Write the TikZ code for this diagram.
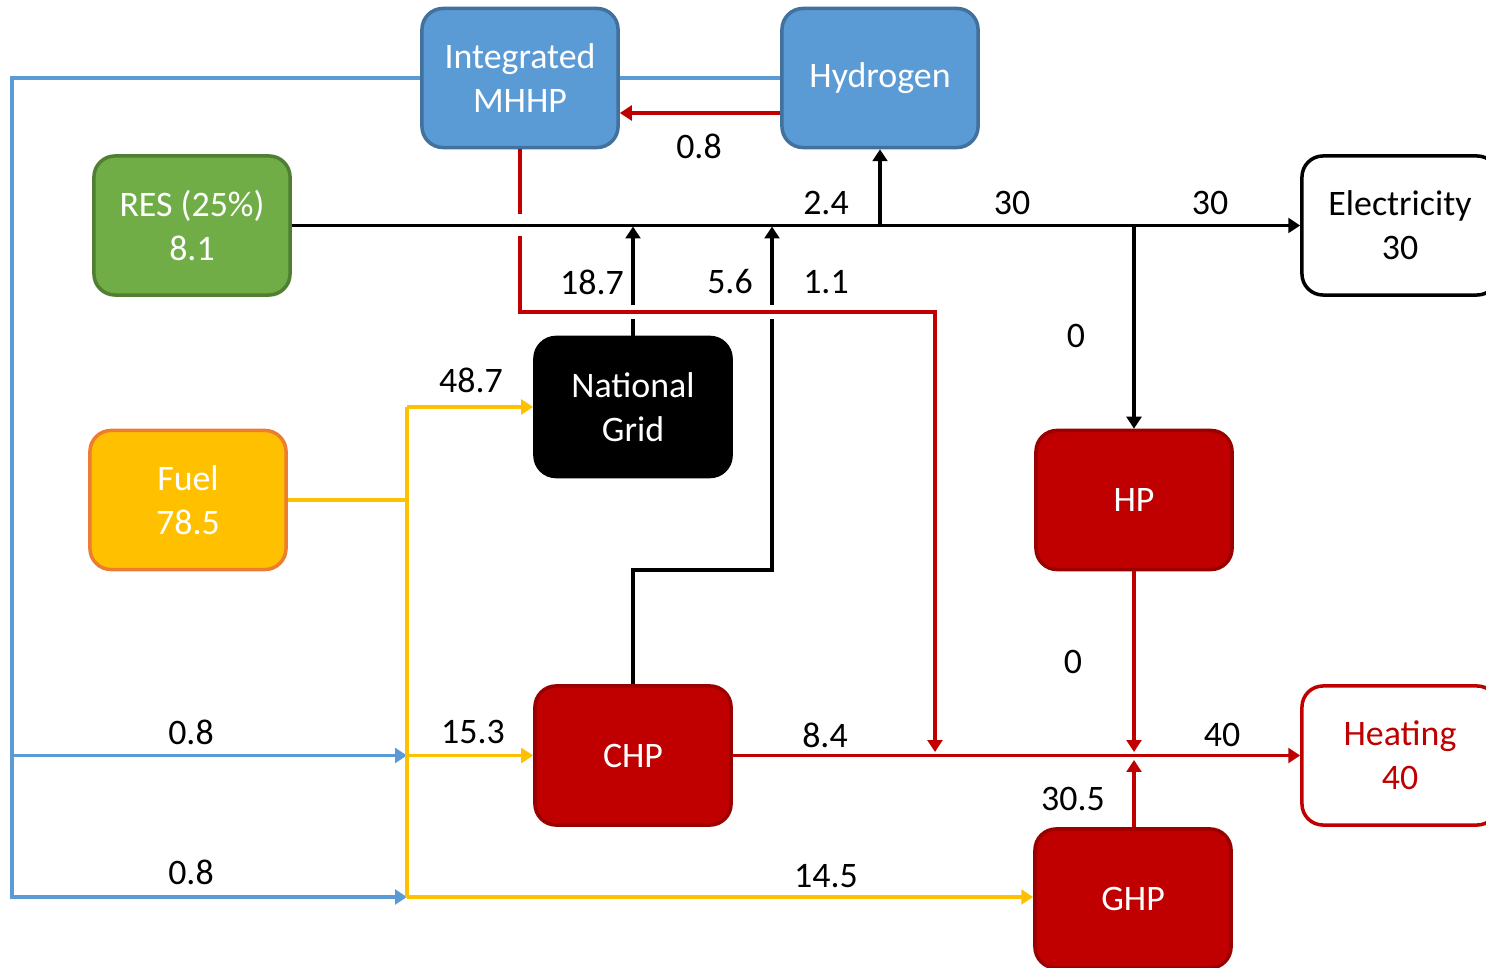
\documentclass[tikz,border=0pt]{standalone}
\usepackage{fontspec}
\setmainfont{Carlito}
\usetikzlibrary{arrows.meta}
\definecolor{bfill}{HTML}{5B9BD5}
\definecolor{bdraw}{HTML}{41719C}
\definecolor{gfill}{HTML}{70AD47}
\definecolor{gdraw}{HTML}{507E32}
\definecolor{yfill}{HTML}{FFC000}
\definecolor{ydraw}{HTML}{ED7D31}
\definecolor{rfill}{HTML}{C00000}
\definecolor{rdraw}{HTML}{9A0000}
\tikzset{
  box/.style={rectangle, rounded corners=6pt, minimum width=1.96cm, minimum height=1.39cm,
    align=center, line width=1pt, inner sep=1pt},
  bluebox/.style={box, fill=bfill, draw=bdraw, text=white},
  greenbox/.style={box, fill=gfill, draw=gdraw, text=white},
  fuelbox/.style={box, fill=yfill, draw=ydraw, text=white},
  redbox/.style={box, fill=rfill, draw=rdraw, text=white},
  blackbox/.style={box, fill=black, draw=black, text=white},
  outbox/.style={box, fill=white, draw=black, text=black},
  heatbox/.style={box, fill=white, draw=rfill, text=rfill},
  lbl/.style={inner sep=0pt, text=black},
  tip/.style={-{Triangle[length=3.4pt,width=4.2pt]}},
  bk/.style={line width=0.9pt, draw=black},
  bl/.style={line width=0.9pt, draw=bfill},
  yl/.style={line width=0.9pt, draw=yfill},
  rl/.style={line width=0.9pt, draw=rfill},
}
\begin{document}
\begin{tikzpicture}[x=0.01cm, y=-0.01cm, font=\fontsize{10.2}{12.6}\selectfont]
\clip (0,0) rectangle (1486,968);
\fill[white] (0,0) rectangle (1486,968);

% nodes
\node[bluebox] (mhhp) at (520,78) {Integrated\\MHHP};
\node[bluebox] (hyd) at (880,78) {Hydrogen};
\node[greenbox] (res) at (192,225.5) {RES (25\%)\\8.1};
\node[outbox] (elec) at (1400,225.5) {Electricity\\30};
\node[blackbox] (ng) at (633,407) {National\\Grid};
\node[fuelbox] (fuel) at (188,500) {Fuel\\78.5};
\node[redbox] (hp) at (1134,500) {HP};
\node[redbox] (chp) at (633,755.5) {CHP};
\node[heatbox] (heat) at (1400,755.5) {Heating\\40};
\node[redbox] (ghp) at (1133,898.5) {GHP};

% coordinates
\coordinate (bc) at (12,755.5);
\coordinate (bg) at (12,897);
\coordinate (ya) at (407,755.5);
\coordinate (yb) at (407,897);
\coordinate (yt) at (407,407);
\coordinate (yf) at (407,500);
\coordinate (ra) at (520,214);
\coordinate (rb) at (520,236);
\coordinate (rc) at (520,312);
\coordinate (rj) at (935,752);
\coordinate (ng1) at (633,319);
\coordinate (ng2) at (633,305);
\coordinate (ng3) at (633,226.5);
\coordinate (ch1) at (772,570);
\coordinate (ch2) at (772,319);
\coordinate (ch3) at (772,305);
\coordinate (ch4) at (772,226.5);
\coordinate (hj) at (1134,752);
\coordinate (gj) at (1134,760);

% blue
\draw[bl, tip] (mhhp.west) -| (bg) -- (yb);
\draw[bl, tip] (bc) -- (ya);
\draw[bl] (mhhp.east) -- (hyd.west);
% red hydrogen -> MHHP
\draw[rl, tip] ([yshift=-0.35cm]hyd.west) -- ([yshift=-0.35cm]mhhp.east);
% black main line
\draw[bk, tip] (res.east) -- (elec.west);
% red MHHP -> heating line
\draw[rl] (mhhp.south) -- (ra);
\draw[rl, tip] (rb) -- (rc) -| (rj);
% national grid up
\draw[bk] (ng.north) -- (ng1);
\draw[bk, tip] (ng2) -- (ng3);
% CHP up
\draw[bk] (chp.north) |- (ch1) -- (ch2);
\draw[bk, tip] (ch3) -- (ch4);
% to hydrogen, to HP
\draw[bk, tip] (hyd.south |- res.east) -- (hyd.south);
\draw[bk, tip] (hp.north |- res.east) -- (hp.north);
% yellow
\draw[yl] (fuel.east) -- (yf);
\draw[yl] (yt) -- (yb);
\draw[yl, tip] (yt) -- (ng.west);
\draw[yl, tip] (ya) -- (chp.west);
\draw[yl, tip] (yb) -- (ghp.west |- yb);
% red heat
\draw[rl, tip] (chp.east) -- (heat.west);
\draw[rl, tip] (hp.south) -- (hj);
\draw[rl, tip] (ghp.north -| hj) -- (gj);

% labels
\node[lbl] (l1) at (699,146) {0.8};
\node[lbl] (l2) at (826,203) {2.4};
\node[lbl] (l3) at (1012,203) {30};
\node[lbl] (l4) at (1210,203) {30};
\node[lbl] (l5) at (592,282) {18.7};
\node[lbl] (l6) at (730,282) {5.6};
\node[lbl] (l7) at (826,282) {1.1};
\node[lbl] (l8) at (1076,336) {0};
\node[lbl] (l9) at (471,380) {48.7};
\node[lbl] (l10) at (1073,662) {0};
\node[lbl] (l11) at (191,732) {0.8};
\node[lbl] (l12) at (473,732) {15.3};
\node[lbl] (l13) at (825,735) {8.4};
\node[lbl] (l14) at (1222,735) {40};
\node[lbl] (l15) at (1073,799) {30.5};
\node[lbl] (l16) at (191,872) {0.8};
\node[lbl] (l17) at (826,876) {14.5};
\end{tikzpicture}
\end{document}
